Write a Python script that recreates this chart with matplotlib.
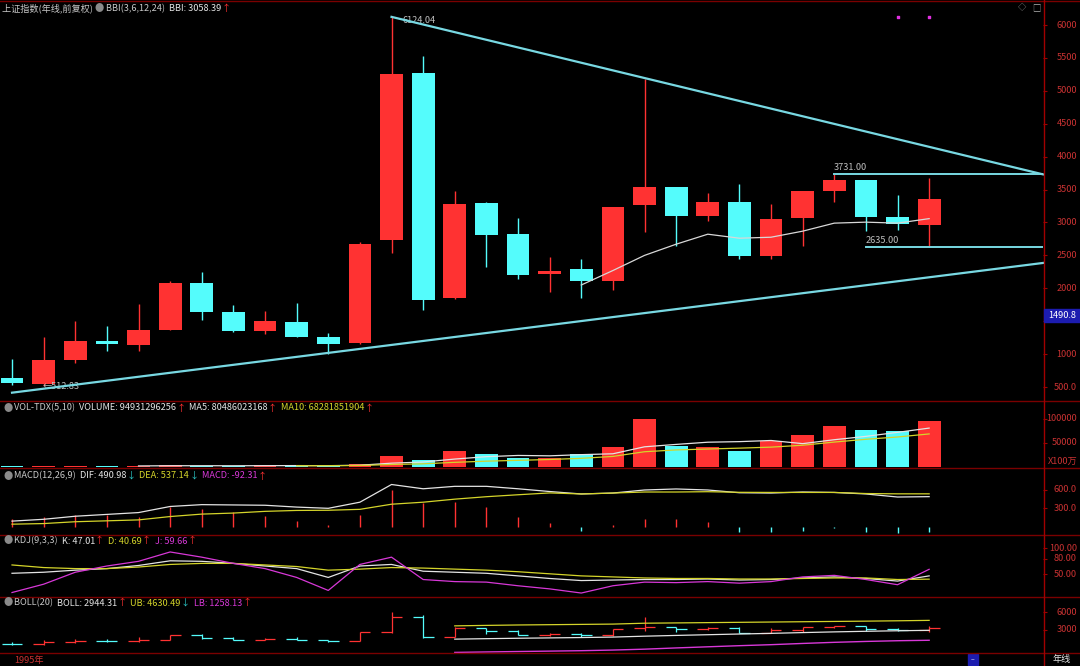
import matplotlib
matplotlib.use('Agg')
import matplotlib.pyplot as plt
import matplotlib.transforms as mtransforms
from matplotlib.patches import Rectangle
import numpy as np

plt.rcParams['font.family'] = ['Noto Sans CJK SC', 'DejaVu Sans']

# ---- data (yearly candles, 1995 .. 2024) ----
years = list(range(1995, 2025))
open_ = [637, 550, 917, 1200, 1144, 1368, 2077, 1645, 1347, 1492, 1261, 1163, 2728, 5265, 1849,
         3289, 2825, 2212, 2289, 2109, 3258, 3536, 3105, 3314, 2497, 3066, 3474, 3649, 3087, 2962]
high = [926, 1258, 1510, 1422, 1757, 2114, 2245, 1748, 1649, 1783, 1328, 2698, 6124.04, 5522, 3478,
        3306, 3067, 2478, 2444, 3239, 5178, 3538, 3450, 3587, 3288, 3475, 3731, 3651, 3419, 3674]
low = [524, 512.83, 870, 1043, 1047, 1361, 1514, 1339, 1307, 1259, 998, 1161, 2541, 1664, 1844,
       2319, 2134, 1949, 1849, 1974, 2850, 2638, 3017, 2449, 2441, 2646, 3312, 2863, 2882, 2635]
close = [555, 917, 1194, 1147, 1367, 2073, 1646, 1357, 1497, 1266, 1161, 2675, 5262, 1821, 3277,
         2808, 2199, 2269, 2116, 3235, 3539, 3104, 3307, 2494, 3050, 3473, 3640, 3089, 2975, 3352]

bbi_x = list(range(18, 30))
bbi = [2050, 2270, 2500, 2670, 2822, 2761, 2776, 2868, 2990, 3005, 2990, 3058.39]

# volume, in units of 100万
volume = [800, 1500, 2000, 1300, 1500, 2800, 1700, 1500, 2400, 2300, 2000, 6300, 23000, 14600, 33000,
          27000, 19000, 19000, 27000, 42000, 100000, 44000, 42000, 33000, 54000, 67000, 85000, 77000,
          75000, 94931]
vol_ma5_x = list(range(4, 30))
vol_ma5 = [1420, 1820, 1860, 1760, 1980, 2140, 1980, 2900, 7200, 9640, 15780, 20780, 23320, 22520,
           25000, 26800, 41400, 46400, 51000, 52200, 54600, 48000, 56200, 63200, 71600, 80486]
vol_ma10_x = list(range(9, 30))
vol_ma10 = [1780, 1900, 2380, 4480, 5810, 8960, 11380, 13110, 14860, 17320, 21290, 31090, 34860,
            36760, 38600, 40700, 44700, 51300, 57100, 61900, 68282]

dif = [90, 120, 170, 200, 230, 330, 360, 355, 350, 320, 300, 400, 690, 620, 660, 660, 620, 575,
       535, 550, 600, 617, 600, 555, 550, 567, 560, 535, 485, 490.98]
dea = [40, 50, 80, 95, 110, 165, 205, 222, 250, 265, 268, 283, 367, 400, 450, 490, 522, 552,
       535, 550, 567, 567, 572, 562, 560, 560, 560, 542, 537, 537.14]
macd = [117, 150, 183, 183, 150, 317, 283, 233, 167, 100, 33, 183, 600, 383, 400, 317, 150, 60,
        -67, 30, 117, 117, 83, -83, -83, -67, -15, -83, -100, -92.31]

k_val = [52, 54, 58, 61, 67, 76, 75, 71, 66, 61, 44, 66, 69, 56, 54, 52, 47, 42, 38, 39, 40, 40,
         41, 39, 40, 43, 45, 42, 37, 47.01]
d_val = [68, 63, 61, 61, 64, 69, 71, 71, 68, 65, 58, 60, 63, 62, 60, 58, 55, 51, 47, 45, 43, 42,
         42, 41, 41, 42, 43, 43, 40, 40.69]
j_val = [15, 31, 54, 66, 75, 93, 83, 71, 61, 44, 19, 69, 83, 40, 36, 35, 28, 22, 14, 28, 35, 34,
         36, 33, 36, 45, 48, 40, 30, 59.66]

boll_x = list(range(14, 30))
boll_mid = [1450, 1530, 1600, 1660, 1720, 1800, 1950, 2080, 2200, 2320, 2430, 2560, 2680, 2780, 2870, 2944.31]
boll_ub = [3700, 3780, 3850, 3900, 3950, 4000, 4150, 4200, 4250, 4300, 4350, 4400, 4450, 4500, 4560, 4630.49]
boll_lb = [-800, -720, -650, -580, -510, -400, -250, -40, 150, 340, 510, 720, 910, 1060, 1180, 1258.13]

# drawn trend lines (index, value)
top_line_x, top_line_y = [12, 32.6], [6124.04, 3731.0]
bot_line_x, bot_line_y = [0, 32.6], [414, 2385]
res_x, res_val = 26, 3731.00
sup_x, sup_val = 27, 2635.00

# ---- style ----
W, H = 1080, 666
R = 1043
XMIN, XMAX = -0.38, 32.6
RED = '#ff3232'
CYAN = '#54fcfc'
TREND = '#78d8e2'
WHITE = '#e4e4e4'
YEL = '#d4d42a'
MAG = '#d838d8'
GRAY_T = '#c8c8c8'
ICON = '#8a8a8a'
AXRED = '#a00000'
SEP = '#7a0000'
TICKRED = '#c83232'
FS = 6.6

x = np.arange(len(years))
o = np.array(open_)
c = np.array(close)
up = c >= o
cols = [RED if u else CYAN for u in up]

fig = plt.figure(figsize=(W / 100, H / 100), dpi=100, facecolor='black')


def panel(top, bot, ylim):
    ax = fig.add_axes([0, 1 - bot / H, R / W, (bot - top) / H])
    ax.set_facecolor('black')
    for s in ax.spines.values():
        s.set_visible(False)
    ax.set_xlim(XMIN, XMAX)
    ax.set_ylim(*ylim)
    ax.set_xticks([])
    ax.yaxis.tick_right()
    ax.tick_params(axis='y', direction='out', length=3, width=0.8, color=AXRED, labelright=False)
    return ax


def ylabels(ax, ticks, labels):
    ax.set_yticks(ticks)
    tr = mtransforms.blended_transform_factory(fig.transFigure, ax.transData)
    for t, l in zip(ticks, labels):
        if l:
            ax.text(1077 / W, t, l, transform=tr, ha='right', va='center', color=TICKRED, fontsize=FS)


def header(ax, y_px, parts, x_px=2):
    t = fig.text(x_px / W, 1 - y_px / H, parts[0][0], color=parts[0][1], fontsize=FS,
                 ha='left', va='center')
    for s, col in parts[1:]:
        t = ax.annotate(s, xy=(1, 0), xycoords=t, va='bottom', ha='left', color=col,
                        fontsize=FS, annotation_clip=False)


# ---- main candle panel ----
ax = panel(1, 399, (318, 6365))
ax.vlines(x, low, high, colors=cols, lw=1.0, zorder=2)
ax.bar(x, np.abs(c - o), bottom=np.minimum(o, c), width=0.72, color=cols, zorder=3)
ax.plot(bbi_x, bbi, color='#d8d8d8', lw=0.9, zorder=4)
ax.plot(top_line_x, top_line_y, color=TREND, lw=1.6, zorder=5, clip_on=False)
ax.plot(bot_line_x, bot_line_y, color=TREND, lw=1.6, zorder=5, clip_on=False)
ax.plot([res_x, XMAX], [res_val, res_val], color=TREND, lw=1.4, zorder=5)
ax.plot([sup_x, XMAX], [sup_val, sup_val], color=TREND, lw=1.4, zorder=5)
ax.annotate('6124.04', xy=(12, 6124.04), xytext=(11, -4), textcoords='offset pixels',
            color='#bdbdbd', fontsize=FS, ha='left', va='center')
ax.annotate('←512.83', xy=(1, 512.83), xytext=(-1, 0), textcoords='offset pixels',
            color='#bdbdbd', fontsize=FS, ha='left', va='center')
ax.annotate('%.2f' % res_val, xy=(res_x, res_val), xytext=(-1, 7), textcoords='offset pixels',
            color='#bdbdbd', fontsize=FS, ha='left', va='center')
ax.annotate('%.2f' % sup_val, xy=(sup_x, sup_val), xytext=(0, 6), textcoords='offset pixels',
            color='#bdbdbd', fontsize=FS, ha='left', va='center')
ax.scatter([28, 29], [0.96, 0.96], transform=mtransforms.blended_transform_factory(ax.transData, ax.transAxes),
           s=2, color='#e030e0', marker='s', zorder=6)
# the 1500 label sits under the crosshair value box, as in the terminal
ylabels(ax, [6000, 5500, 5000, 4500, 4000, 3500, 3000, 2500, 2000, 1500, 1000, 500],
        ['6000', '5500', '5000', '4500', '4000', '3500', '3000', '2500', '2000', '', '1000', '500.0'])
header(ax, 8, [('上证指数(年线,前复权) ', GRAY_T), ('●', ICON), (' BBI(3,6,12,24)  ', GRAY_T),
               ('BBI: 3058.39', WHITE), ('↑', RED)])

# ---- volume ----
axv = panel(402, 467, (-800, 135000))
axv.bar(x, volume, width=0.72, color=cols, zorder=3)
axv.plot(vol_ma5_x, vol_ma5, color=WHITE, lw=0.9, zorder=4)
axv.plot(vol_ma10_x, vol_ma10, color=YEL, lw=0.9, zorder=4)
ylabels(axv, [100000, 50000], ['100000', '50000'])
header(axv, 408, [('●', ICON), (' VOL-TDX(5,10)  ', GRAY_T), ('VOLUME: 94931296256', WHITE), ('↑', RED),
                  ('  MA5: 80486023168', WHITE), ('↑', RED), ('  MA10: 68281851904', YEL), ('↑', RED)], x_px=3)
fig.text(1077 / W, 1 - 461 / H, 'X100万', color=TICKRED, fontsize=FS, ha='right', va='center')

# ---- MACD ----
axm = panel(469, 534, (-121, 944))
mcols = [RED if m >= 0 else CYAN for m in macd]
axm.vlines(x, 0, macd, colors=mcols, lw=1.0, zorder=2)
axm.plot(x, dif, color=WHITE, lw=0.9, zorder=3)
axm.plot(x, dea, color=YEL, lw=0.9, zorder=3)
ylabels(axm, [600, 300], ['600.0', '300.0'])
header(axm, 476, [('●', ICON), (' MACD(12,26,9)  ', GRAY_T), ('DIF: 490.98', WHITE), ('↓', '#2cc8c8'),
                  ('  DEA: 537.14', YEL), ('↓', '#2cc8c8'), ('  MACD: -92.31', MAG), ('↑', RED)], x_px=3)

# ---- KDJ ----
axk = panel(536, 596, (8.3, 123.7))
axk.plot(x, k_val, color=WHITE, lw=0.9)
axk.plot(x, d_val, color=YEL, lw=0.9)
axk.plot(x, j_val, color=MAG, lw=0.9)
ylabels(axk, [100, 80, 50], ['100.00', '80.00', '50.00'])
header(axk, 541, [('●', ICON), (' KDJ(9,3,3)  ', GRAY_T), ('K: 47.01', WHITE), ('↑', RED),
                  ('  D: 40.69', YEL), ('↑', RED), ('  J: 59.66', MAG), ('↑', RED)], x_px=3)

# ---- BOLL ----
axb = panel(598, 653, (-900, 8424))
axb.vlines(x, low, high, colors=cols, lw=0.9)
axb.hlines(open_, x - 0.33, x, colors=cols, lw=0.9)
axb.hlines(close, x, x + 0.33, colors=cols, lw=0.9)
axb.plot(boll_x, boll_mid, color=WHITE, lw=0.9)
axb.plot(boll_x, boll_ub, color=YEL, lw=0.9)
axb.plot(boll_x, boll_lb, color=MAG, lw=1.0)
ylabels(axb, [6000, 3000], ['6000', '3000'])
header(axb, 603, [('●', ICON), (' BOLL(20)  ', GRAY_T), ('BOLL: 2944.31', WHITE), ('↑', RED),
                  ('  UB: 4630.49', YEL), ('↓', '#2cc8c8'), ('  LB: 1258.13', MAG), ('↑', RED)], x_px=3)

# ---- frame lines ----
for yy in [0.5, 401, 468, 535, 597, 653]:
    fig.add_artist(plt.Line2D([0, 1], [1 - yy / H, 1 - yy / H], color=SEP, lw=1.0))
fig.add_artist(plt.Line2D([(R + 0.5) / W, (R + 0.5) / W], [0, 1], color=AXRED, lw=1.0))

# crosshair value box
fig.add_artist(Rectangle((1044 / W, 1 - 322 / H), 36 / W, 13 / H, transform=fig.transFigure,
                         color='#1c1cb0', zorder=5))
fig.text(1062 / W, 1 - 315.5 / H, '1490.8', color='white', fontsize=FS, ha='center', va='center', zorder=6)

# bottom strip
fig.text(14 / W, 1 - 660 / H, f'{years[0]}年', color=TICKRED, fontsize=FS, ha='left', va='center')
fig.text(1062 / W, 1 - 659.5 / H, '年线', color=WHITE, fontsize=FS, ha='center', va='center')
fig.add_artist(Rectangle((968 / W, 1 - 665 / H), 10 / W, 11 / H, transform=fig.transFigure,
                         color='#1c1cb0'))
fig.text(973 / W, 1 - 660 / H, '–', color='white', fontsize=5, ha='center', va='center')

# small icons top right
fig.text(1022 / W, 1 - 8 / H, '◇', color=ICON, fontsize=6, ha='center', va='center')
fig.text(1036 / W, 1 - 8 / H, '□', color='#b0b0b0', fontsize=6, ha='center', va='center')

fig.savefig('out.png', dpi=100, facecolor='black')
